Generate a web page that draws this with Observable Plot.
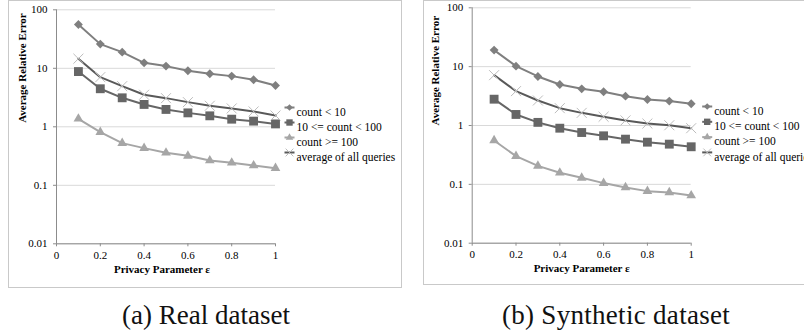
<!DOCTYPE html>
<html><head><meta charset="utf-8">
<script src="https://cdn.jsdelivr.net/npm/d3@7"></script>
<script src="https://cdn.jsdelivr.net/npm/@observablehq/plot@0.6"></script>
<style>
html,body{margin:0;padding:0;background:#fff;overflow:hidden;width:804px;height:332px}
#root{position:relative;width:804px;height:332px;overflow:hidden;font-family:"Liberation Serif",serif}
#root svg, #root svg text, #root svg g{font-family:"Liberation Serif",serif !important}
.frame{position:absolute;border:1px solid #c9c9c9;box-sizing:border-box}
.panel{position:absolute;top:0}
.caption{position:absolute;font-size:27px;line-height:27px;white-space:nowrap;transform:translateX(-50%);color:#111}
</style></head><body><div id="root">
<div class="frame" style="left:8px;top:0;width:394px;height:288px"></div>
<div class="frame" style="left:423px;top:0;width:400px;height:285px"></div>
<div id="a" class="panel" style="left:0"></div>
<div id="b" class="panel" style="left:405px"></div>
<div class="caption" style="left:206px;top:302px">(a) Real dataset</div>
<div class="caption" style="left:616px;top:302px;letter-spacing:0.3px">(b) Synthetic dataset</div>
</div>
<script>
const eps = [0.1, 0.2, 0.3, 0.4, 0.5, 0.6, 0.7, 0.8, 0.9, 1.0];
const seriesNames = ["count < 10", "10 <= count < 100", "count >= 100", "average of all queries"];
const xTicks = [0, 0.2, 0.4, 0.6, 0.8, 1];
const xTickLabels = ["0", "0.2", "0.4", "0.6", "0.8", "1"];
const yTicks = [0.01, 0.1, 1, 10, 100];
const yTickLabels = ["0.01", "0.1", "1", "10", "100"];
const xLabel = "Privacy Parameter ε";
const yLabel = "Average Relative Error";

const realLow  = [56, 25.9, 18.9, 12.4, 10.9, 9.06, 8.05, 7.35, 6.36, 5.09];
const realMid  = [8.8, 4.47, 3.13, 2.41, 1.98, 1.73, 1.54, 1.35, 1.25, 1.12];
const realHigh = [1.37, 0.81, 0.526, 0.432, 0.36, 0.319, 0.265, 0.243, 0.218, 0.196];
const realAvg  = [14.6, 7.06, 4.95, 3.53, 3.09, 2.64, 2.29, 2.06, 1.83, 1.56];

const synLow  = [19.1, 10.2, 6.81, 4.98, 4.2, 3.74, 3.15, 2.77, 2.6, 2.34];
const synMid  = [2.8, 1.54, 1.13, 0.90, 0.76, 0.668, 0.586, 0.521, 0.482, 0.435];
const synHigh = [0.557, 0.301, 0.206, 0.157, 0.129, 0.105, 0.0885, 0.0767, 0.0728, 0.0647];
const synAvg  = [7.17, 3.84, 2.66, 1.97, 1.64, 1.41, 1.22, 1.08, 1.01, 0.90];

const FONT = "Liberation Serif";
const styles = [
  {line: "#7f7f7f", mark: "#7f7f7f", symbol: "diamond2", r: 4.0, lr: 3.0, fill: true},
  {line: "#666666", mark: "#666666", symbol: "square", r: 5.0, lr: 3.6, fill: true},
  {line: "#a6a6a6", mark: "#a6a6a6", symbol: "triangle", r: 3.6, lr: 2.8, fill: true},
  {line: "#595959", mark: "#bdbdbd", symbol: "times", r: 4.6, lr: 3.6, fill: false}
];

const segment = {draw(ctx) { ctx.moveTo(-5, 0); ctx.lineTo(5, 0); }};

function panel(seriesVals, g) {
  const marks = [
    Plot.gridY(yTicks, {stroke: "#d9d9d9", strokeOpacity: 1}),
    Plot.ruleX([0], {stroke: "#8c8c8c"}),
    Plot.ruleY([0.01], {stroke: "#8c8c8c"}),
    Plot.axisY(yTicks, {tickSize: 3, tickPadding: 6, stroke: "#8c8c8c", fill: "#000", fontFamily: FONT, fontSize: 11,
      tickFormat: d => yTickLabels[yTicks.indexOf(d)], label: null}),
    Plot.axisX(xTicks, {tickSize: 3, tickPadding: 4, stroke: "#8c8c8c", fill: "#000", fontFamily: FONT, fontSize: 11,
      tickFormat: d => xTickLabels[xTicks.indexOf(d)], label: null}),
    Plot.text([xLabel], {frameAnchor: "bottom", dx: g.xlDx, dy: g.xlDy, fontWeight: "bold", fill: "#000", fontFamily: FONT, fontSize: 11}),
    Plot.text([yLabel], {frameAnchor: "left", dx: g.ylDx, dy: g.ylDy, rotate: -90, fontWeight: "bold", fill: "#000", fontFamily: FONT, fontSize: 11})
  ];
  seriesVals.forEach((vals, k) => {
    const s = styles[k];
    const data = eps.map((x, i) => ({x, y: vals[i]}));
    marks.push(Plot.line(data, {x: "x", y: "y", stroke: s.line, strokeWidth: 2}));
    marks.push(Plot.dot(data, s.fill
      ? {x: "x", y: "y", symbol: s.symbol, r: s.r, fill: s.mark, stroke: "none"}
      : {x: "x", y: "y", symbol: s.symbol, r: s.r, fill: "none", stroke: s.mark, strokeWidth: 1}));
    const dy = g.legDy + k * g.legStep;
    marks.push(Plot.dot([0], {frameAnchor: "top-right", dx: g.legDx, dy, symbol: segment, r: 1, fill: "none", stroke: s.line, strokeWidth: 2}));
    marks.push(Plot.dot([0], s.fill
      ? {frameAnchor: "top-right", dx: g.legDx, dy, symbol: s.symbol, r: s.lr, fill: s.mark, stroke: "none"}
      : {frameAnchor: "top-right", dx: g.legDx, dy, symbol: s.symbol, r: s.lr, fill: "none", stroke: s.mark, strokeWidth: 1}));
    marks.push(Plot.text([seriesNames[k]], {frameAnchor: "top-right", dx: g.legDx + 7, dy, textAnchor: "start", fill: "#000", fontFamily: FONT, fontSize: 11.5}));
  });
  return Plot.plot({
    width: g.width, height: g.height,
    marginLeft: g.ml, marginRight: g.mr, marginTop: g.mt, marginBottom: g.mb,
    style: {background: "transparent", overflow: "visible", fontFamily: FONT, fontSize: "11px"},
    x: {domain: [0, 1]},
    y: {type: "log", domain: [0.01, 100]},
    marks
  });
}

document.getElementById("a").append(panel([realLow, realMid, realHigh, realAvg],
  {width: 400, height: 290, ml: 56, mr: 125, mt: 9.3, mb: 46.7,
   xlDx: -4, xlDy: 29, ylDx: -34, ylDy: -4, legDx: 14, legDy: 97.7, legStep: 15}));
document.getElementById("b").append(panel([synLow, synMid, synHigh, synAvg],
  {width: 399, height: 290, ml: 66.7, mr: 113.3, mt: 7.3, mb: 47.3,
   xlDx: 0, xlDy: 29, ylDx: -37, ylDy: 0, legDx: 16, legDy: 98.7, legStep: 15.3}));
</script>
</body></html>
